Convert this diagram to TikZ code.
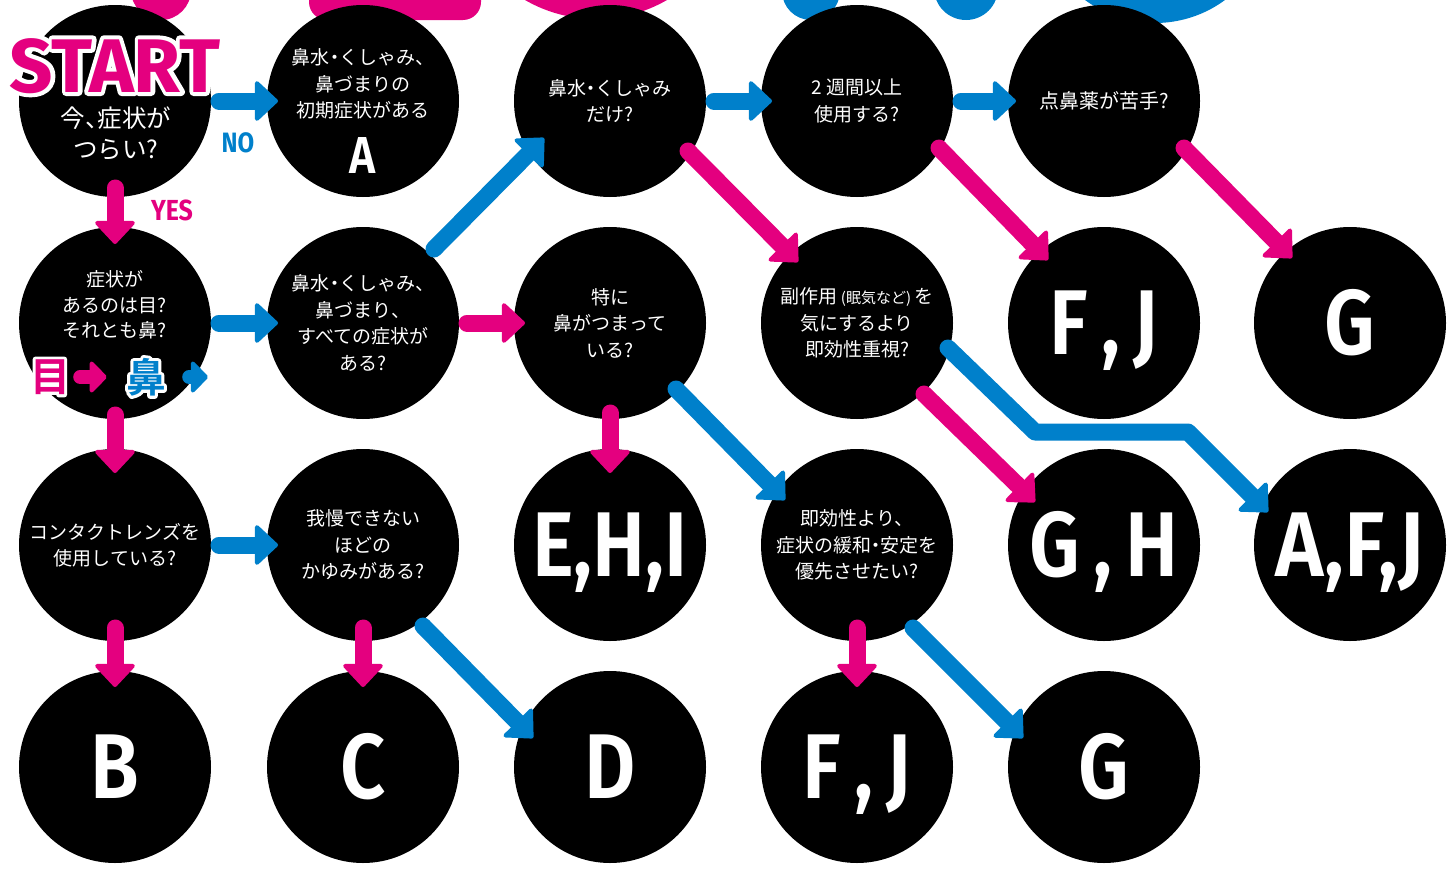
\documentclass[tikz,border=0pt]{standalone}
\usepackage{fontspec}
\usepackage{graphicx}
\usepackage{tikz}
\usetikzlibrary{calc,arrows.meta}

\setmainfont{Noto Sans CJK JP}
\newfontfamily\jpbold{Noto Sans CJK JP Bold}
\newfontfamily\din{Fira Sans}
\newfontfamily\dinsb{Fira Sans SemiBold}
\definecolor{kpink}{HTML}{E4007F}
\definecolor{kblue}{HTML}{0080CB}
\newcommand{\narrow}[1]{\scalebox{0.86}[1]{#1}}
\newcommand{\pdot}{{\addfontfeature{RawFeature=+palt}・}}
\newcommand{\pcomma}{{\addfontfeature{RawFeature=+palt}、}}
\newcommand{\outline}[1]{\special{pdf:literal direct 1 Tr #1 w 1 j}}

\tikzset{
  disc/.style={circle,fill=black,minimum size=192pt,inner sep=0pt,text=white,align=center,font=\fontsize{19}{26.5}\selectfont},
  ans/.style={disc,font=\dinsb\fontsize{92}{92}\selectfont,text height=63pt,text depth=0pt},
  qtext/.style={text=white,align=center,inner sep=0pt,font=\fontsize{19}{25.5}\selectfont},
  kanji/.style={inner sep=0pt,font=\jpbold\fontsize{40}{40}\selectfont},
  startlbl/.style={anchor=base,inner sep=0pt,font=\din\bfseries\fontsize{76}{76}\selectfont},
  yesarr/.style={draw=kpink,line width=17pt,line cap=round,line join=round,-{Triangle[round,width=44pt,length=24pt,line width=4pt]}},
  noarr/.style={draw=kblue,line width=17pt,line cap=round,line join=round,-{Triangle[round,width=44pt,length=24pt,line width=4pt]}},
  smallarr/.style={line width=14pt,-{Triangle[round,width=36pt,length=18pt,line width=4pt]}}
}

\begin{document}
\begin{tikzpicture}[x=1pt,y=-1pt]
\useasboundingbox (0,0) rectangle (1451,870);

% pieces of the part above
\begin{scope}
\clip (0,0) rectangle (1451,870);
\fill[kpink] (161,-10) circle (30);
\fill[kpink,rounded corners=18pt] (309,-40) rectangle (481,20);
\fill[kpink] (596,-123) circle (142);
\fill[kblue] (811,-9) circle (29);
\fill[kblue] (966,-12) circle (32);
\fill[kblue] (1155,-95) circle (118);
\end{scope}

\node[disc] (start) at (115,101) {};
\node[disc] (early) at (363,101) {};
\node[disc] (only) at (610,101) {鼻水\pdot くしゃみ\\だけ?};
\node[disc] (weeks) at (857,101) {2 週間以上\\使用する?};
\node[disc,font=\fontsize{20}{26.5}\selectfont] (drops) at (1104,101) {点鼻薬が苦手?};

\node[disc] (eyenose) at (115,323) {};
\node[disc] (allsym) at (363,323) {鼻水\pdot くしゃみ、\\鼻づまり、\\すべての症状が\\ある?};
\node[disc] (stuffy) at (610,323) {特に\\鼻がつまって\\いる?};
\node[disc] (side) at (857,323) {副作用\,{\fontsize{15}{15}\selectfont(眠気など)}\,を\\気にするより\\即効性重視?};
\node[ans] (fj1) at (1104,323) {\narrow{F\,,\,J}};
\node[ans] (g1) at (1350,323) {\narrow{G}};

\node[disc] (lens) at (115,545) {コンタクトレンズを\\使用している?};
\node[disc] (itch) at (363,545) {我慢できない\\ほどの\\かゆみがある?};
\node[ans] (ehi) at (610,545) {\narrow{E,H,I}};
\node[disc] (quick) at (857,545) {即効性より、\\症状の緩和\pdot 安定を\\優先させたい?};
\node[ans] (gh) at (1104,545) {\narrow{G\,,\,H}};
\node[ans] (afj) at (1350,545) {\scalebox{0.9}[1]{A,F,J}};

\node[ans] (b) at (115,767) {\narrow{B}};
\node[ans] (c) at (363,767) {\narrow{C}};
\node[ans] (d) at (610,767) {\narrow{D}};
\node[ans] (fj2) at (857,767) {\narrow{F\,,\,J}};
\node[ans] (g2) at (1104,767) {\narrow{G}};

% texts that sit off centre
\node[startlbl,text=white] (startw) at (115,92) {\outline{8}START};
\node[startlbl,text=kpink] (startlbl) at (115,92) {START};
\node[text=white,align=center,inner sep=0pt,font=\fontsize{24.5}{31}\selectfont] (startq) at (116,133) {今\pcomma 症状が\\つらい?};
\node[anchor=base,text=kblue,inner sep=0pt,font=\din\bfseries\fontsize{28}{28}\selectfont] (nolbl) at (238,152) {\narrow{NO}};
\node[anchor=base,text=kpink,inner sep=0pt,font=\din\bfseries\fontsize{29}{29}\selectfont] (yeslbl) at (172,220) {\narrow{YES}};

\node[qtext,font=\fontsize{19}{26.5}\selectfont] (earlyq) at (363,84) {鼻水\pdot くしゃみ、\\鼻づまりの\\初期症状がある};
\node[anchor=base,text=white,inner sep=0pt,font=\dinsb\fontsize{52}{52}\selectfont] (ansA) at (363,173) {\narrow{A}};

\node[qtext] (eyenoseq) at (115,305) {症状が\\あるのは目?\\それとも鼻?};
\node[kanji,text=white] (eyew) at (50,377) {\outline{6}目};
\node[kanji,text=white] (nosew) at (146,377) {\outline{6}鼻};
\node[kanji,text=kpink] (eye) at (50,377) {目};
\node[kanji,text=kblue] (nose) at (146,377) {鼻};
\coordinate (noseend) at (208,377);
\draw[yesarr,smallarr] ($(eye.east)+(10,0)$) -- ($(nose.west)+(-19,0)$);
\draw[noarr,smallarr] ($(nose.east)+(23,0)$) -- (noseend);

\draw[noarr] ($(start)+(104,0)$) -- ($(early)+(-85,0)$);
\draw[yesarr] ($(start)+(0,87)$) -- ($(eyenose)+(0,-79)$);
\draw[noarr] ($(eyenose)+(104,0)$) -- ($(allsym)+(-85,0)$);
\draw[yesarr] ($(eyenose)+(0,92)$) -- ($(lens)+(0,-72)$);
\draw[noarr] ($(allsym)+(71,-74)$) -- ($(only)+(-66,37)$);
\draw[yesarr] ($(allsym)+(104,0)$) -- ($(stuffy)+(-85,0)$);
\draw[noarr] ($(only)+(104,0)$) -- ($(weeks)+(-85,0)$);
\draw[yesarr] ($(only)+(78,50)$) -- ($(side)+(-59,-61)$);
\draw[noarr] ($(weeks)+(104,0)$) -- ($(drops)+(-88,0)$);
\draw[yesarr] ($(weeks)+(82,47)$) -- ($(fj1)+(-56,-63)$);
\draw[yesarr] ($(drops)+(80,47)$) -- ($(g1)+(-58,-65)$);
\draw[yesarr] ($(stuffy)+(0,90)$) -- ($(ehi)+(0,-72)$);
\draw[noarr] ($(stuffy)+(66,66)$) -- ($(quick)+(-72,-45)$);
\draw[yesarr] ($(side)+(67,71)$) -- ($(gh)+(-69,-43)$);
\draw[noarr] ($(side)+(91,25)$) -- ($(side)+(178,109)$) -- ($(afj)+(-162,-113)$) -- ($(afj)+(-82,-33)$);
\draw[yesarr] ($(lens)+(0,83)$) -- ($(b)+(0,-80)$);
\draw[noarr] ($(lens)+(104,0)$) -- ($(itch)+(-85,0)$);
\draw[yesarr] ($(itch)+(0,83)$) -- ($(c)+(0,-80)$);
\draw[noarr] ($(itch)+(60,81)$) -- ($(d)+(-77,-29)$);
\draw[yesarr] ($(quick)+(0,83)$) -- ($(fj2)+(0,-80)$);
\draw[noarr] ($(quick)+(56,83)$) -- ($(g2)+(-81,-29)$);

\end{tikzpicture}
\end{document}
